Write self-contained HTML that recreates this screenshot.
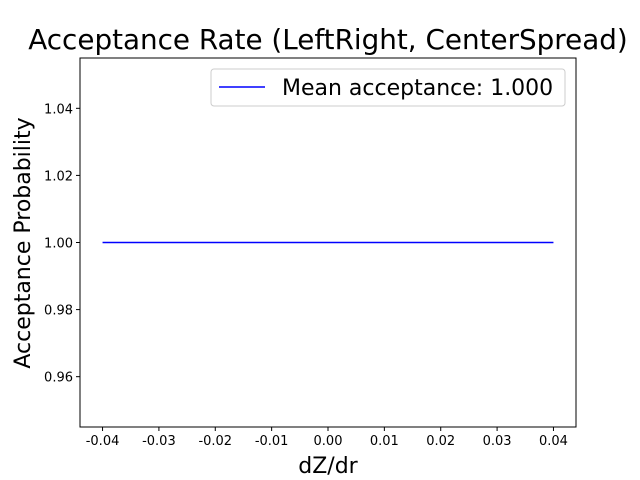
<!DOCTYPE html>
<html><head><meta charset="utf-8"><style>
body{margin:0;background:#fff;}
svg{display:block;font-family:"DejaVu Sans","Liberation Sans",sans-serif;}
</style></head><body>
<svg id="chart" width="640" height="480">
<rect width="640" height="480" fill="#fff"/>
<text x="328" y="49" font-size="27.8" text-anchor="middle">Acceptance Rate (LeftRight, CenterSpread)</text>
<g id="ticks"></g>
<polyline id="series" fill="none" stroke="#0000ff" stroke-width="1.5"/>
<rect x="80" y="58" width="496" height="369" fill="none" stroke="#000" stroke-width="1"/>
<text x="328" y="473" font-size="22" text-anchor="middle">dZ/dr</text>
<text transform="translate(30,243) rotate(-90)" font-size="22" text-anchor="middle">Acceptance Probability</text>
<g>
<rect x="211" y="69" width="354" height="37" rx="3" fill="#fff" stroke="#ccc"/>
<line x1="219" y1="87" x2="265" y2="87" stroke="#0000ff" stroke-width="1.5"/>
<text x="282" y="95" font-size="22">Mean acceptance: 1.000</text>
</g>
</svg>
<script>
const xValues=[-0.04,-0.02,0,0.02,0.04];
const yValues=[1.0,1.0,1.0,1.0,1.0];
const xTicks=[-0.04,-0.03,-0.02,-0.01,0.00,0.01,0.02,0.03,0.04];
const yTicks=[0.96,0.98,1.00,1.02,1.04];
const X0=80,X1=576,Y0=427,Y1=58,xMin=-0.044,xMax=0.044,yMin=0.945,yMax=1.055;
const sx=v=>X0+(v-xMin)/(xMax-xMin)*(X1-X0);
const sy=v=>Y0-(v-yMin)/(yMax-yMin)*(Y0-Y1);
const NS="http://www.w3.org/2000/svg";
const g=document.getElementById('ticks');
xTicks.forEach(t=>{
 const l=document.createElementNS(NS,'line');
 l.setAttribute('x1',sx(t));l.setAttribute('x2',sx(t));l.setAttribute('y1',Y0);l.setAttribute('y2',Y0+4);l.setAttribute('stroke','#000');
 
 
 g.appendChild(l);
 const tx=document.createElementNS(NS,'text');
 tx.setAttribute('x',sx(t));tx.setAttribute('y',Y0+18);tx.setAttribute('font-size','13');tx.setAttribute('text-anchor','middle');
 tx.textContent=t.toFixed(2);
 
 
 g.appendChild(tx);
});
yTicks.forEach(t=>{
 const l=document.createElementNS(NS,'line');
 l.setAttribute('x1',X0-4);l.setAttribute('x2',X0);l.setAttribute('y1',sy(t));l.setAttribute('y2',sy(t));l.setAttribute('stroke','#000');
 
 
 g.appendChild(l);
 const tx=document.createElementNS(NS,'text');
 tx.setAttribute('x',X0-7);tx.setAttribute('y',sy(t)+5);tx.setAttribute('font-size','13');tx.setAttribute('text-anchor','end');
 tx.textContent=t.toFixed(2);
 
 
 g.appendChild(tx);
});
document.getElementById('series').setAttribute('points',xValues.map((x,i)=>sx(x)+','+sy(yValues[i])).join(' '));
</script>
</body></html>
